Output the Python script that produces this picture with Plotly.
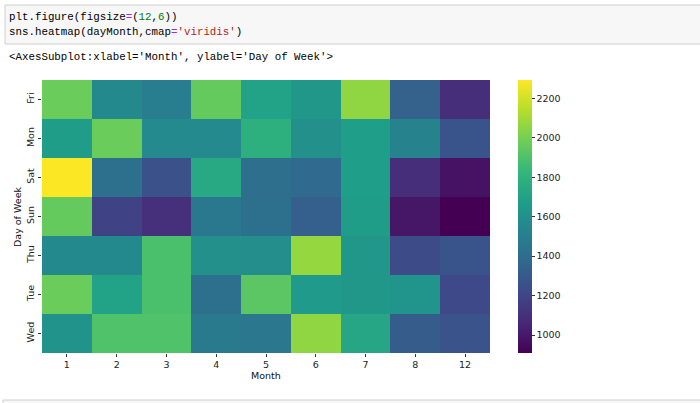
import plotly.graph_objects as go

W, H = 700, 403

months = ["1", "2", "3", "4", "5", "6", "7", "8", "12"]
days = ["Fri", "Mon", "Sat", "Sun", "Thu", "Tue", "Wed"]

fri = [1975, 1560, 1500, 1960, 1700, 1640, 2060, 1340, 1090]
mon = [1670, 1975, 1570, 1570, 1780, 1600, 1680, 1530, 1270]
sat = [2290, 1420, 1255, 1740, 1410, 1380, 1680, 1090, 975]
sun = [1960, 1185, 1100, 1465, 1420, 1325, 1670, 990, 909]
thu = [1560, 1560, 1890, 1600, 1590, 2070, 1640, 1225, 1270]
tue = [1975, 1700, 1890, 1420, 1935, 1655, 1640, 1625, 1215]
wed = [1615, 1905, 1905, 1475, 1460, 2060, 1725, 1310, 1265]

cbar_ticks = [1000, 1200, 1400, 1600, 1800, 2000, 2200]

z = [fri, mon, sat, sun, thu, tue, wed]


def px(x):
    return x / W


def py(y):
    return 1 - y / H


fig = go.Figure()
fig.add_trace(go.Heatmap(
    z=z, x=months, y=days, colorscale="Viridis",
    zmin=909, zmax=2293,
    colorbar=dict(
        x=px(518), xanchor="left", y=py(80), yanchor="top",
        lenmode="pixels", len=273, thickness=14,
        outlinewidth=0, tickvals=cbar_ticks, ticks="outside",
        ticklen=3, tickcolor="#333", xpad=0, ypad=0,
        tickfont=dict(family="DejaVu Sans", size=9.5, color="#222"),
    ),
))

tickfont = dict(family="DejaVu Sans", size=9.5, color="#222")
titlefont = dict(family="DejaVu Sans", size=9.5, color="#111111")
fig.update_layout(
    template="none",
    width=W, height=H,
    margin=dict(l=0, r=0, t=0, b=0, autoexpand=False),
    paper_bgcolor="white", plot_bgcolor="white",
    xaxis=dict(domain=[px(42), px(490)], type="category", ticks="outside",
               ticklen=3, tickcolor="#333", tickfont=tickfont, showgrid=False,
               zeroline=False, showline=False, automargin=False),
    yaxis=dict(domain=[py(353), py(80)], type="category", autorange="reversed",
               ticks="outside", ticklen=3, tickcolor="#333", tickangle=-90,
               tickfont=tickfont, showgrid=False, zeroline=False, showline=False,
               automargin=False),
    font=dict(family="DejaVu Sans", color="#111111"),
)

fig.add_annotation(text="Month", xref="paper", yref="paper", x=px(266), y=py(375),
                   xanchor="center", yanchor="middle", showarrow=False, font=titlefont)
fig.add_annotation(text="Day of Week", xref="paper", yref="paper", x=px(17), y=py(217),
                   xanchor="center", yanchor="middle", showarrow=False, textangle=-90,
                   font=titlefont)

# notebook code cell
fig.add_shape(type="rect", xref="paper", yref="paper",
              x0=px(5), x1=px(702), y0=py(44), y1=py(5),
              fillcolor="#f7f7f7", line=dict(color="#cfcfcf", width=1), layer="below")
fig.add_shape(type="rect", xref="paper", yref="paper",
              x0=px(3), x1=px(702), y0=py(410), y1=py(400),
              fillcolor="#f7f7f7", line=dict(color="#cfcfcf", width=1), layer="below")

mono = dict(family="Liberation Mono", size=10.8, color="#000")
G = "#008000"
P = "#AA22FF"
R = "#BA2121"
line1 = f"plt.figure(figsize<span style='color:{P}'>=</span>(<span style='color:{G}'>12</span>,<span style='color:{G}'>6</span>))"
line2 = f"sns.heatmap(dayMonth,cmap<span style='color:{P}'>=</span><span style='color:{R}'>'viridis'</span>)"
line3 = "&lt;AxesSubplot:xlabel='Month', ylabel='Day of Week'&gt;"
for txt, y in [(line1, 17), (line2, 32), (line3, 57)]:
    fig.add_annotation(text=txt, xref="paper", yref="paper", x=px(7), y=py(y),
                       xanchor="left", yanchor="middle", showarrow=False, font=mono)

fig.write_html("out.html", config={"displayModeBar": False},
               post_script="document.body.style.margin='0';")
